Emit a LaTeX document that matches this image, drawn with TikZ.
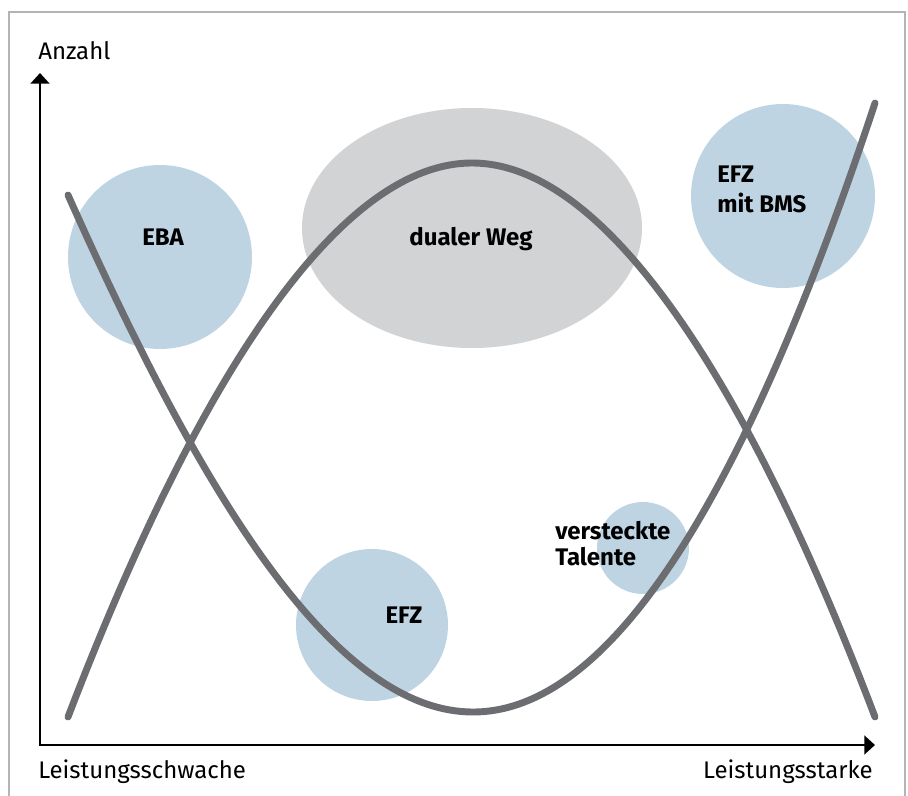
\documentclass[tikz,border=0pt]{standalone}
\usepackage{fontspec}
\setmainfont{Fira Sans}
\usetikzlibrary{arrows.meta,shapes.geometric}
\definecolor{blobblue}{HTML}{BED4E2}
\definecolor{blobgray}{HTML}{D2D3D5}
\definecolor{curvegray}{HTML}{6C6D71}
\definecolor{framegray}{HTML}{B4B4B4}
\tikzset{
  blob/.style={circle, fill=blobblue, draw=none, inner sep=0pt},
  curve/.style={draw=curvegray, line width=5.2pt, line cap=round, line join=round},
  axis/.style={line width=2.2pt, {Triangle[length=8pt,width=14pt]}-{Triangle[length=8pt,width=14pt]}},
  axislabel/.style={font=\fontsize{18}{20}\selectfont, inner sep=0pt},
  boldlabel/.style={font=\fontsize{18}{20}\selectfont\bfseries, inner sep=0pt}
}
\begin{document}
\begin{tikzpicture}[x=0.75pt,y=-0.75pt]
    \useasboundingbox (0,0) rectangle (908,796);
    % frame
    \draw[framegray, line width=1.5pt] (9,800) -- (9,12) -- (905,12) -- (905,800);
    % groups
    \node[ellipse, fill=blobgray, inner sep=0pt, minimum width=255pt, minimum height=180pt] (dual) at (472,228) {};
    \node[blob, minimum size=138pt] (eba) at (160,257) {};
    \node[blob, minimum size=138pt] (bms) at (783,196) {};
    \node[blob, minimum size=114pt] (efz) at (372,625) {};
    \node[blob, minimum size=69pt] (talente) at (643,548) {};
    % curves
    \coordinate (peak) at (472,163);
    \coordinate (dip) at (473,712);
    \draw[curve] (68,717) .. controls (195,385) and (337,163) .. (peak)
                 .. controls (607,163) and (749,385) .. (875,717);
    \draw[curve] (68,195) .. controls (195,480) and (330,712) .. (dip)
                 .. controls (607,712) and (741,509) .. (875,103);
    % axes
    \coordinate (origin) at (40,745);
    \coordinate (ytip) at (40,73);
    \coordinate (xtip) at (875,745);
    \draw[axis] (ytip) -- (origin) -- (xtip);
    % labels
    \node[axislabel, anchor=base west] (anzahl) at (38,60) {Anzahl};
    \node[axislabel, anchor=base west] (schwach) at (38,778) {Leistungsschwache};
    \node[axislabel, anchor=base east] (stark) at (873,778) {Leistungsstarke};
    \node[boldlabel, anchor=base] (ebatext) at (163,245) {EBA};
    \node[boldlabel, anchor=base] (dualtext) at (471,245) {dualer Weg};
    \node[boldlabel, anchor=base west, align=left, font=\fontsize{18}{22.5}\selectfont\bfseries] (bmstext) at (717,212) {EFZ\\mit BMS};
    \node[boldlabel, anchor=base] (efztext) at (404,623) {EFZ};
    \node[boldlabel, anchor=base west, align=left, font=\fontsize{18}{19.5}\selectfont\bfseries] (talentetext) at (555,565) {versteckte\\Talente};
\end{tikzpicture}
\end{document}
